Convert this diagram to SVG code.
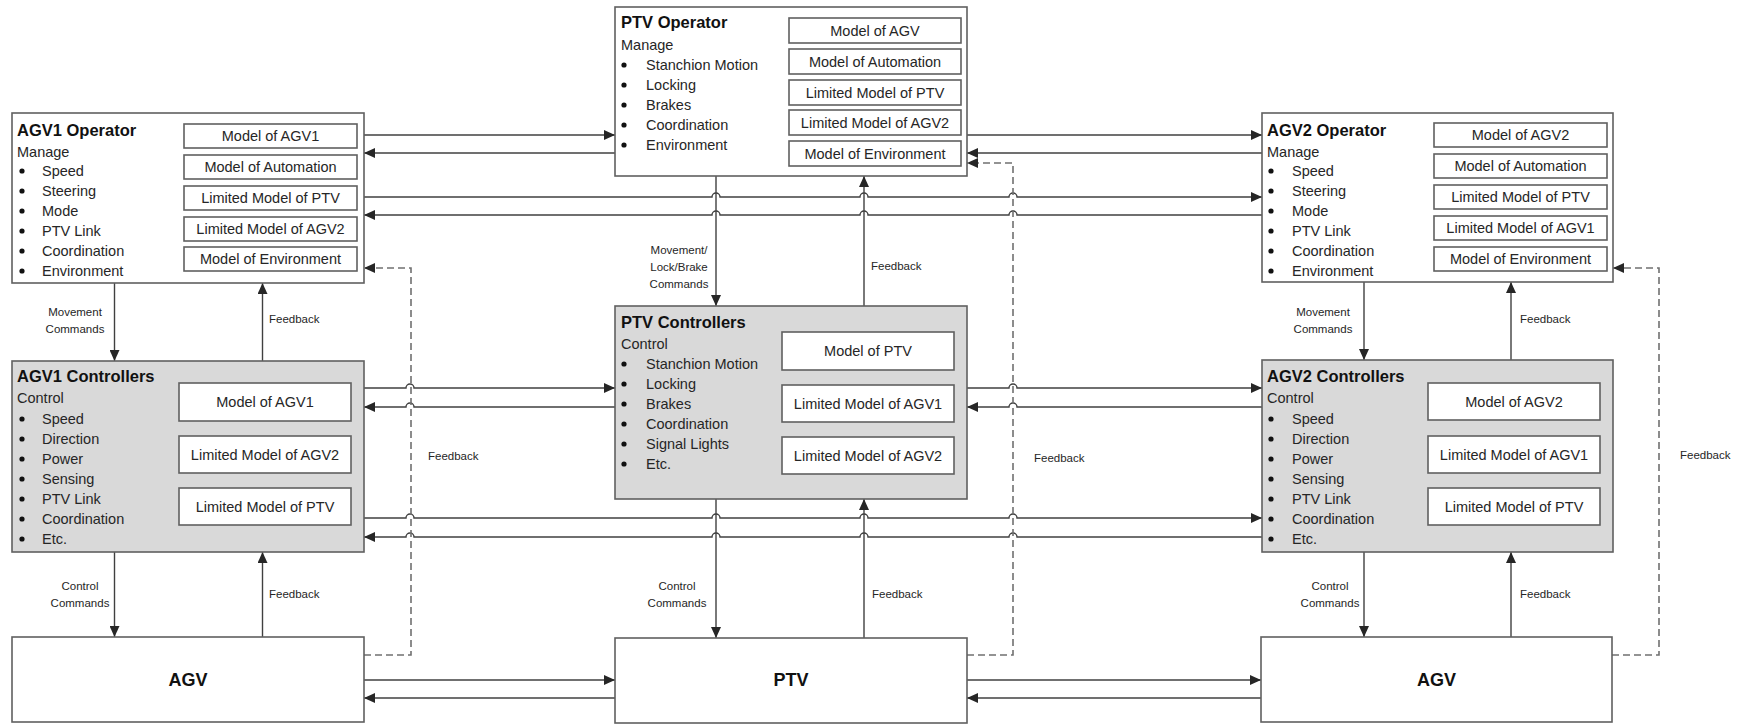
<svg xmlns="http://www.w3.org/2000/svg" width="1745" height="726" viewBox="0 0 1745 726">
<defs>
<marker id="ah" markerUnits="userSpaceOnUse" markerWidth="12" markerHeight="10" refX="11" refY="5" orient="auto">
<path d="M0,0 L11,5 L0,10 Z" fill="#262626"/>
</marker>
<style>
.box{fill:#ffffff;stroke:#606060;stroke-width:1.6}
.gbox{fill:#d9d9d9;stroke:#606060;stroke-width:1.6}
.ibox{fill:#ffffff;stroke:#606060;stroke-width:1.6}
.t{font-family:"Liberation Sans",Arial,sans-serif;font-size:14.5px;fill:#262626}
.ti{font-family:"Liberation Sans",Arial,sans-serif;font-size:16.5px;font-weight:bold;fill:#111}
.c{text-anchor:middle}
.big{font-family:"Liberation Sans",Arial,sans-serif;font-size:18px;font-weight:bold;fill:#111;text-anchor:middle}
.lb{font-family:"Liberation Sans",Arial,sans-serif;font-size:11.5px;fill:#262626}
.ln{fill:none;stroke:#404040;stroke-width:1.4}
.ar{fill:none;stroke:#404040;stroke-width:1.4;marker-end:url(#ah)}
.ds{fill:none;stroke:#707070;stroke-width:1.6;stroke-dasharray:7,4;marker-end:url(#ah)}
.bl{fill:#111}
</style>
</defs>

<g id="connectors">
<path class="ar" d="M364,135 H615"/>
<path class="ar" d="M615,153 H364"/>
<path class="ar" d="M967,135 H1262"/>
<path class="ar" d="M1262,153 H967"/>
<path class="ar" d="M364,197 H712 a4,4 0 0 1 8,0 H860 a4,4 0 0 1 8,0 H1009 a4,4 0 0 1 8,0 H1262"/>
<path class="ar" d="M1262,215 H1017 a4,4 0 0 0 -8,0 H868 a4,4 0 0 0 -8,0 H720 a4,4 0 0 0 -8,0 H364"/>
<path class="ar" d="M364,388 H406 a4,4 0 0 1 8,0 H615"/>
<path class="ar" d="M615,407 H414 a4,4 0 0 0 -8,0 H364"/>
<path class="ar" d="M967,388 H1009 a4,4 0 0 1 8,0 H1262"/>
<path class="ar" d="M1262,407 H1017 a4,4 0 0 0 -8,0 H967"/>
<path class="ar" d="M364,518 H406 a4,4 0 0 1 8,0 H712 a4,4 0 0 1 8,0 H860 a4,4 0 0 1 8,0 H1009 a4,4 0 0 1 8,0 H1262"/>
<path class="ar" d="M1262,537 H1017 a4,4 0 0 0 -8,0 H868 a4,4 0 0 0 -8,0 H720 a4,4 0 0 0 -8,0 H414 a4,4 0 0 0 -8,0 H364"/>
<path class="ar" d="M364,680 H615"/>
<path class="ar" d="M615,698 H364"/>
<path class="ar" d="M967,680 H1261"/>
<path class="ar" d="M1261,698 H967"/>
<path class="ar" d="M114.5,283 V361"/>
<path class="ar" d="M262.5,361 V283"/>
<path class="ar" d="M716,176 V306"/>
<path class="ar" d="M864,306 V176"/>
<path class="ar" d="M1364,282 V360"/>
<path class="ar" d="M1511,360 V282"/>
<path class="ar" d="M114.5,552 V637"/>
<path class="ar" d="M262.5,637 V552"/>
<path class="ar" d="M716,499 V638"/>
<path class="ar" d="M864,638 V499"/>
<path class="ar" d="M1364,552 V637"/>
<path class="ar" d="M1511,637 V552"/>
<path class="ds" d="M364,655 H411 V268 H364"/>
<path class="ds" d="M967,655 H1013 V163 H967"/>
<path class="ds" d="M1612,655 H1659 V268 H1613"/>
<text class="lb c" x="75" y="316">Movement</text>
<text class="lb c" x="75" y="333">Commands</text>
<text class="lb" x="269" y="323">Feedback</text>
<text class="lb c" x="679" y="254">Movement/</text>
<text class="lb c" x="679" y="271">Lock/Brake</text>
<text class="lb c" x="679" y="288">Commands</text>
<text class="lb" x="871" y="270">Feedback</text>
<text class="lb c" x="1323" y="316">Movement</text>
<text class="lb c" x="1323" y="333">Commands</text>
<text class="lb" x="1520" y="323">Feedback</text>
<text class="lb" x="428" y="460">Feedback</text>
<text class="lb" x="1034" y="462">Feedback</text>
<text class="lb" x="1680" y="459">Feedback</text>
<text class="lb c" x="80" y="590">Control</text>
<text class="lb c" x="80" y="607">Commands</text>
<text class="lb" x="269" y="598">Feedback</text>
<text class="lb c" x="677" y="590">Control</text>
<text class="lb c" x="677" y="607">Commands</text>
<text class="lb" x="872" y="598">Feedback</text>
<text class="lb c" x="1330" y="590">Control</text>
<text class="lb c" x="1330" y="607">Commands</text>
<text class="lb" x="1520" y="598">Feedback</text>
</g>

<g id="agv1-operator">
<rect class="box" x="12" y="113" width="352" height="170"/>
<text class="ti" x="17" y="136">AGV1 Operator</text>
<text class="t" x="17" y="157">Manage</text>
<circle class="bl" cx="22" cy="171" r="2.6"/><text class="t" x="42" y="176">Speed</text>
<circle class="bl" cx="22" cy="191" r="2.6"/><text class="t" x="42" y="196">Steering</text>
<circle class="bl" cx="22" cy="211" r="2.6"/><text class="t" x="42" y="216">Mode</text>
<circle class="bl" cx="22" cy="231" r="2.6"/><text class="t" x="42" y="236">PTV Link</text>
<circle class="bl" cx="22" cy="251" r="2.6"/><text class="t" x="42" y="256">Coordination</text>
<circle class="bl" cx="22" cy="271" r="2.6"/><text class="t" x="42" y="276">Environment</text>
<rect class="ibox" x="184" y="124" width="173" height="24"/><text class="t c" x="270.5" y="141">Model of AGV1</text>
<rect class="ibox" x="184" y="155" width="173" height="24"/><text class="t c" x="270.5" y="172">Model of Automation</text>
<rect class="ibox" x="184" y="186" width="173" height="24"/><text class="t c" x="270.5" y="203">Limited Model of PTV</text>
<rect class="ibox" x="184" y="217" width="173" height="24"/><text class="t c" x="270.5" y="234">Limited Model of AGV2</text>
<rect class="ibox" x="184" y="247" width="173" height="24"/><text class="t c" x="270.5" y="264">Model of Environment</text>
</g>

<g id="ptv-operator">
<rect class="box" x="615" y="7" width="352" height="169"/>
<text class="ti" x="621" y="28">PTV Operator</text>
<text class="t" x="621" y="50">Manage</text>
<circle class="bl" cx="624" cy="65" r="2.6"/><text class="t" x="646" y="70">Stanchion Motion</text>
<circle class="bl" cx="624" cy="85" r="2.6"/><text class="t" x="646" y="90">Locking</text>
<circle class="bl" cx="624" cy="105" r="2.6"/><text class="t" x="646" y="110">Brakes</text>
<circle class="bl" cx="624" cy="125" r="2.6"/><text class="t" x="646" y="130">Coordination</text>
<circle class="bl" cx="624" cy="145" r="2.6"/><text class="t" x="646" y="150">Environment</text>
<rect class="ibox" x="789" y="18" width="172" height="25"/><text class="t c" x="875" y="35.5">Model of AGV</text>
<rect class="ibox" x="789" y="49" width="172" height="25"/><text class="t c" x="875" y="66.5">Model of Automation</text>
<rect class="ibox" x="789" y="80" width="172" height="25"/><text class="t c" x="875" y="97.5">Limited Model of PTV</text>
<rect class="ibox" x="789" y="110" width="172" height="25"/><text class="t c" x="875" y="127.5">Limited Model of AGV2</text>
<rect class="ibox" x="789" y="141" width="172" height="25"/><text class="t c" x="875" y="158.5">Model of Environment</text>
</g>

<g id="agv2-operator">
<rect class="box" x="1262" y="113" width="351" height="169"/>
<text class="ti" x="1267" y="136">AGV2 Operator</text>
<text class="t" x="1267" y="157">Manage</text>
<circle class="bl" cx="1271" cy="171" r="2.6"/><text class="t" x="1292" y="176">Speed</text>
<circle class="bl" cx="1271" cy="191" r="2.6"/><text class="t" x="1292" y="196">Steering</text>
<circle class="bl" cx="1271" cy="211" r="2.6"/><text class="t" x="1292" y="216">Mode</text>
<circle class="bl" cx="1271" cy="231" r="2.6"/><text class="t" x="1292" y="236">PTV Link</text>
<circle class="bl" cx="1271" cy="251" r="2.6"/><text class="t" x="1292" y="256">Coordination</text>
<circle class="bl" cx="1271" cy="271" r="2.6"/><text class="t" x="1292" y="276">Environment</text>
<rect class="ibox" x="1434" y="123" width="173" height="24"/><text class="t c" x="1520.5" y="140">Model of AGV2</text>
<rect class="ibox" x="1434" y="154" width="173" height="24"/><text class="t c" x="1520.5" y="171">Model of Automation</text>
<rect class="ibox" x="1434" y="185" width="173" height="24"/><text class="t c" x="1520.5" y="202">Limited Model of PTV</text>
<rect class="ibox" x="1434" y="216" width="173" height="24"/><text class="t c" x="1520.5" y="233">Limited Model of AGV1</text>
<rect class="ibox" x="1434" y="247" width="173" height="24"/><text class="t c" x="1520.5" y="264">Model of Environment</text>
</g>

<g id="agv1-controllers">
<rect class="gbox" x="12" y="361" width="352" height="191"/>
<text class="ti" x="17" y="382">AGV1 Controllers</text>
<text class="t" x="17" y="403">Control</text>
<circle class="bl" cx="22" cy="419" r="2.6"/><text class="t" x="42" y="424">Speed</text>
<circle class="bl" cx="22" cy="439" r="2.6"/><text class="t" x="42" y="444">Direction</text>
<circle class="bl" cx="22" cy="459" r="2.6"/><text class="t" x="42" y="464">Power</text>
<circle class="bl" cx="22" cy="479" r="2.6"/><text class="t" x="42" y="484">Sensing</text>
<circle class="bl" cx="22" cy="499" r="2.6"/><text class="t" x="42" y="504">PTV Link</text>
<circle class="bl" cx="22" cy="519" r="2.6"/><text class="t" x="42" y="524">Coordination</text>
<circle class="bl" cx="22" cy="539" r="2.6"/><text class="t" x="42" y="544">Etc.</text>
<rect class="ibox" x="179" y="383" width="172" height="38"/><text class="t c" x="265" y="407">Model of AGV1</text>
<rect class="ibox" x="179" y="436" width="172" height="37"/><text class="t c" x="265" y="459.5">Limited Model of AGV2</text>
<rect class="ibox" x="179" y="488" width="172" height="37"/><text class="t c" x="265" y="511.5">Limited Model of PTV</text>
</g>

<g id="ptv-controllers">
<rect class="gbox" x="615" y="306" width="352" height="193"/>
<text class="ti" x="621" y="328">PTV Controllers</text>
<text class="t" x="621" y="349">Control</text>
<circle class="bl" cx="624" cy="364" r="2.6"/><text class="t" x="646" y="369">Stanchion Motion</text>
<circle class="bl" cx="624" cy="384" r="2.6"/><text class="t" x="646" y="389">Locking</text>
<circle class="bl" cx="624" cy="404" r="2.6"/><text class="t" x="646" y="409">Brakes</text>
<circle class="bl" cx="624" cy="424" r="2.6"/><text class="t" x="646" y="429">Coordination</text>
<circle class="bl" cx="624" cy="444" r="2.6"/><text class="t" x="646" y="449">Signal Lights</text>
<circle class="bl" cx="624" cy="464" r="2.6"/><text class="t" x="646" y="469">Etc.</text>
<rect class="ibox" x="782" y="332" width="172" height="38"/><text class="t c" x="868" y="356">Model of PTV</text>
<rect class="ibox" x="782" y="385" width="172" height="37"/><text class="t c" x="868" y="408.5">Limited Model of AGV1</text>
<rect class="ibox" x="782" y="437" width="172" height="37"/><text class="t c" x="868" y="460.5">Limited Model of AGV2</text>
</g>

<g id="agv2-controllers">
<rect class="gbox" x="1262" y="360" width="351" height="192"/>
<text class="ti" x="1267" y="382">AGV2 Controllers</text>
<text class="t" x="1267" y="403">Control</text>
<circle class="bl" cx="1271" cy="419" r="2.6"/><text class="t" x="1292" y="424">Speed</text>
<circle class="bl" cx="1271" cy="439" r="2.6"/><text class="t" x="1292" y="444">Direction</text>
<circle class="bl" cx="1271" cy="459" r="2.6"/><text class="t" x="1292" y="464">Power</text>
<circle class="bl" cx="1271" cy="479" r="2.6"/><text class="t" x="1292" y="484">Sensing</text>
<circle class="bl" cx="1271" cy="499" r="2.6"/><text class="t" x="1292" y="504">PTV Link</text>
<circle class="bl" cx="1271" cy="519" r="2.6"/><text class="t" x="1292" y="524">Coordination</text>
<circle class="bl" cx="1271" cy="539" r="2.6"/><text class="t" x="1292" y="544">Etc.</text>
<rect class="ibox" x="1428" y="383" width="172" height="37"/><text class="t c" x="1514" y="406.5">Model of AGV2</text>
<rect class="ibox" x="1428" y="436" width="172" height="37"/><text class="t c" x="1514" y="459.5">Limited Model of AGV1</text>
<rect class="ibox" x="1428" y="488" width="172" height="37"/><text class="t c" x="1514" y="511.5">Limited Model of PTV</text>
</g>

<g id="agv1">
<rect class="box" x="12" y="637" width="352" height="85"/>
<text class="big" x="188" y="686">AGV</text>
</g>

<g id="ptv">
<rect class="box" x="615" y="638" width="352" height="85"/>
<text class="big" x="791" y="686">PTV</text>
</g>

<g id="agv2">
<rect class="box" x="1261" y="637" width="351" height="85"/>
<text class="big" x="1436.5" y="686">AGV</text>
</g>
</svg>
